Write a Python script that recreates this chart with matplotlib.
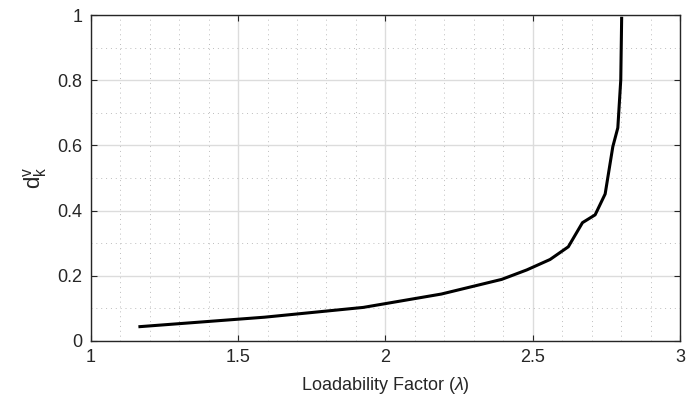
import matplotlib
matplotlib.use("Agg")
import matplotlib.pyplot as plt
from matplotlib.ticker import MultipleLocator

lam = [1.167, 1.59, 1.925, 2.19, 2.395, 2.48, 2.559, 2.621, 2.669, 2.712, 2.746, 2.772, 2.789, 2.799, 2.802]
dkv = [0.044, 0.073, 0.103, 0.144, 0.189, 0.218, 0.25, 0.289, 0.363, 0.387, 0.451, 0.596, 0.654, 0.801, 0.99]

xticks = [1, 1.5, 2, 2.5, 3]
xticklabels = ["1", "1.5", "2", "2.5", "3"]
yticks = [0, 0.2, 0.4, 0.6, 0.8, 1]
yticklabels = ["0", "0.2", "0.4", "0.6", "0.8", "1"]

plt.rcParams['font.family'] = ['Liberation Sans', 'DejaVu Sans']
plt.rcParams['mathtext.fontset'] = 'custom'
plt.rcParams['mathtext.rm'] = 'Liberation Sans'
plt.rcParams['mathtext.it'] = 'Liberation Sans:italic'

fig = plt.figure(figsize=(6.99, 4.07), dpi=100)
ax = fig.add_axes([0.1298, 0.1622, 0.8430, 0.8009])

ax.plot(lam, dkv, color='black', linewidth=2.2, zorder=3)
ax.set_xlim(1, 3)
ax.set_ylim(0, 1)
ax.set_xticks(xticks)
ax.set_xticklabels(xticklabels)
ax.set_yticks(yticks)
ax.set_yticklabels(yticklabels)
ax.xaxis.set_minor_locator(MultipleLocator(0.1))
ax.yaxis.set_minor_locator(MultipleLocator(0.1))
ax.grid(which='major', color='#dcdcdc', linestyle='-', linewidth=1.0)
ax.grid(which='minor', color='#bdbdbd', linestyle=(0, (1, 4)), linewidth=0.7)
ax.set_axisbelow(True)
ax.tick_params(which='major', direction='in', length=4, width=0.8, color='#262626',
               top=True, right=True, labelsize=13, labelcolor='#262626', pad=6)
ax.tick_params(which='minor', length=0, top=True, right=True)
for s in ax.spines.values():
    s.set_color('#262626')
    s.set_linewidth(1.0)

ax.set_xlabel(r'Loadability Factor ($\lambda$)', fontsize=13, color='#262626', labelpad=6)
ax.set_ylabel(r'$\mathrm{d}_\mathrm{k}^\mathrm{v}$', fontsize=16, color='#262626', labelpad=6)

fig.savefig('out.png', dpi=100)
